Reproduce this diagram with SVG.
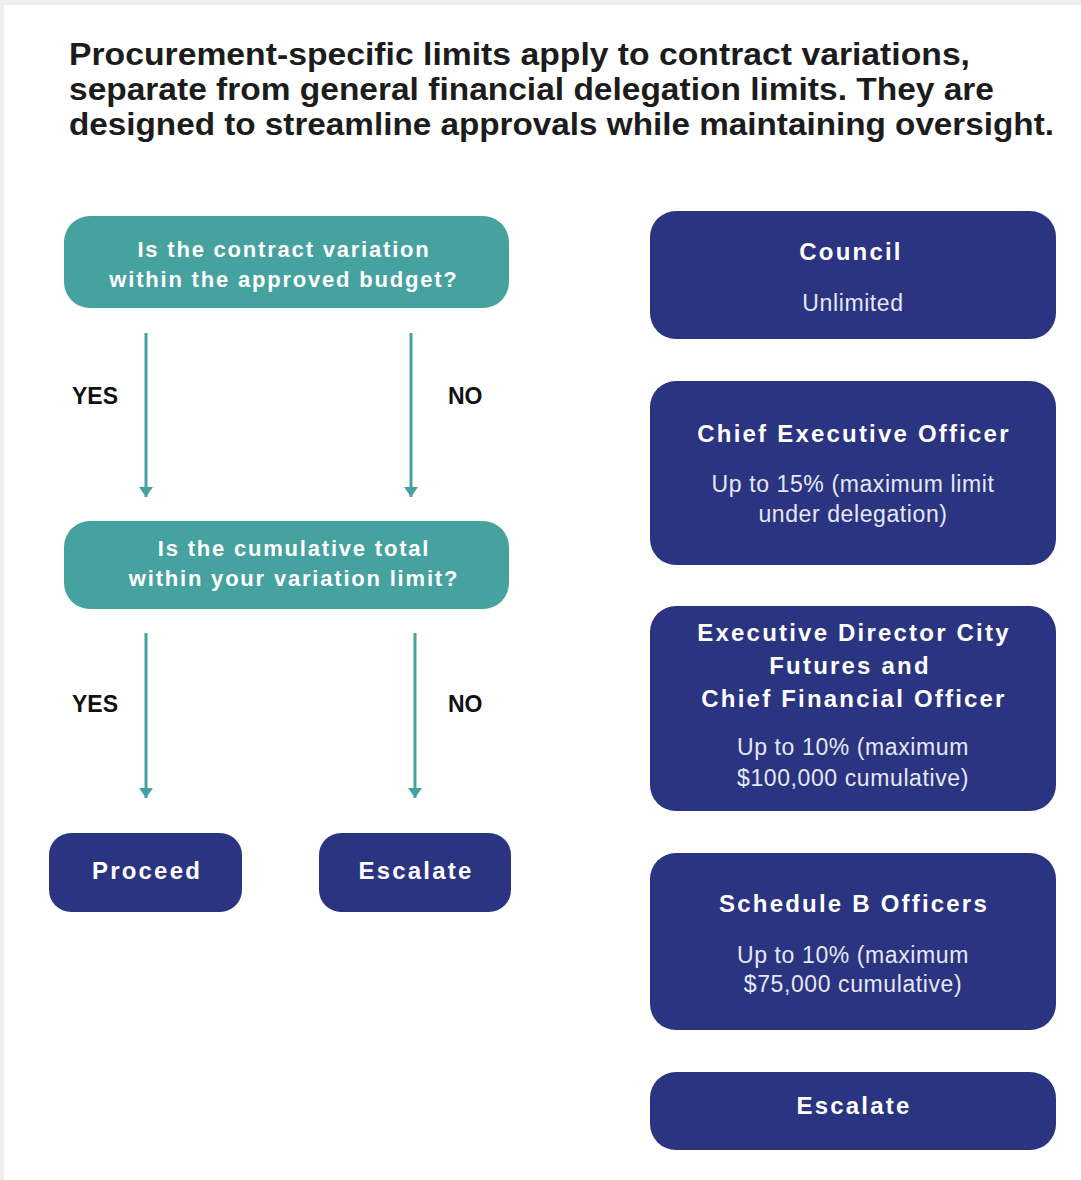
<svg xmlns="http://www.w3.org/2000/svg" width="1081" height="1180" viewBox="0 0 1081 1180">
  <defs>
    <style>
      .title { font-family: "Liberation Sans", Arial, sans-serif; font-weight: 700; font-size: 31px; fill: #1c1c1c; }
      .q { fill: #46a29f; }
      .n { fill: #2b3481; }
      .qt { font-family: "Liberation Sans", Arial, sans-serif; font-weight: 700; font-size: 22px; fill: #ffffff; text-anchor: middle; letter-spacing: 1.8px; }
      .nt { font-family: "Liberation Sans", Arial, sans-serif; font-weight: 700; font-size: 24px; fill: #ffffff; text-anchor: middle; letter-spacing: 2.2px; }
      .st { font-family: "Liberation Sans", Arial, sans-serif; font-weight: 400; font-size: 23px; fill: #e6e8f4; text-anchor: middle; letter-spacing: 0.6px; }
      .lbl { font-family: "Liberation Sans", Arial, sans-serif; font-weight: 700; font-size: 23px; fill: #111111; }
      .edge { stroke: #46a29f; stroke-width: 3; fill: none; marker-end: url(#arrow); }
    </style>
    <marker id="arrow" viewBox="0 0 10 14" refX="10" refY="7" markerWidth="10" markerHeight="14" markerUnits="userSpaceOnUse" orient="auto">
      <path d="M0,0 L10,7 L0,14 Z" fill="#46a29f"/>
    </marker>
  </defs>

  <!-- page background with light frame -->
  <rect x="0" y="0" width="1081" height="1180" fill="#efefef"/>
  <rect x="4" y="5" width="1077" height="1175" fill="#ffffff"/>

  <!-- heading -->
  <g id="heading">
    <text class="title" x="69" y="65" textLength="901" lengthAdjust="spacingAndGlyphs">Procurement-specific limits apply to contract variations,</text>
    <text class="title" x="69" y="100" textLength="925" lengthAdjust="spacingAndGlyphs">separate from general financial delegation limits. They are</text>
    <text class="title" x="69" y="135" textLength="985" lengthAdjust="spacingAndGlyphs">designed to streamline approvals while maintaining oversight.</text>
  </g>

  <!-- connectors -->
  <g id="connectors">
    <line class="edge" x1="146" y1="333" x2="146" y2="497"/>
    <line class="edge" x1="411" y1="333" x2="411" y2="497"/>
    <line class="edge" x1="146" y1="633" x2="146" y2="798"/>
    <line class="edge" x1="415" y1="633" x2="415" y2="798"/>
    <text class="lbl" x="72" y="404">YES</text>
    <text class="lbl" x="448" y="404">NO</text>
    <text class="lbl" x="72" y="712">YES</text>
    <text class="lbl" x="448" y="712">NO</text>
  </g>

  <!-- decision flow -->
  <g id="q-budget">
    <rect class="q" x="64" y="216" width="445" height="92" rx="26"/>
    <text class="qt" x="284" y="257">Is the contract variation</text>
    <text class="qt" x="284" y="287">within the approved budget?</text>
  </g>
  <g id="q-cumulative">
    <rect class="q" x="64" y="521" width="445" height="88" rx="26"/>
    <text class="qt" x="294" y="556">Is the cumulative total</text>
    <text class="qt" x="294" y="586">within your variation limit?</text>
  </g>
  <g id="proceed">
    <rect class="n" x="49" y="833" width="193" height="79" rx="22"/>
    <text class="nt" x="147" y="879">Proceed</text>
  </g>
  <g id="escalate-flow">
    <rect class="n" x="319" y="833" width="192" height="79" rx="22"/>
    <text class="nt" x="416" y="879">Escalate</text>
  </g>

  <!-- delegation limits -->
  <g id="council">
    <rect class="n" x="650" y="211" width="406" height="128" rx="26"/>
    <text class="nt" x="851" y="260">Council</text>
    <text class="st" x="853" y="311">Unlimited</text>
  </g>
  <g id="ceo">
    <rect class="n" x="650" y="381" width="406" height="184" rx="26"/>
    <text class="nt" x="854" y="442">Chief Executive Officer</text>
    <text class="st" x="853" y="492">Up to 15% (maximum limit</text>
    <text class="st" x="853" y="522">under delegation)</text>
  </g>
  <g id="ed-cfo">
    <rect class="n" x="650" y="606" width="406" height="205" rx="26"/>
    <text class="nt" x="854" y="641">Executive Director City</text>
    <text class="nt" x="850" y="674">Futures and</text>
    <text class="nt" x="854" y="707">Chief Financial Officer</text>
    <text class="st" x="853" y="755">Up to 10% (maximum</text>
    <text class="st" x="853" y="786">$100,000 cumulative)</text>
  </g>
  <g id="schedule-b">
    <rect class="n" x="650" y="853" width="406" height="177" rx="26"/>
    <text class="nt" x="854" y="912">Schedule B Officers</text>
    <text class="st" x="853" y="963">Up to 10% (maximum</text>
    <text class="st" x="853" y="992">$75,000 cumulative)</text>
  </g>
  <g id="escalate-limits">
    <rect class="n" x="650" y="1072" width="406" height="78" rx="26"/>
    <text class="nt" x="854" y="1114">Escalate</text>
  </g>
</svg>
